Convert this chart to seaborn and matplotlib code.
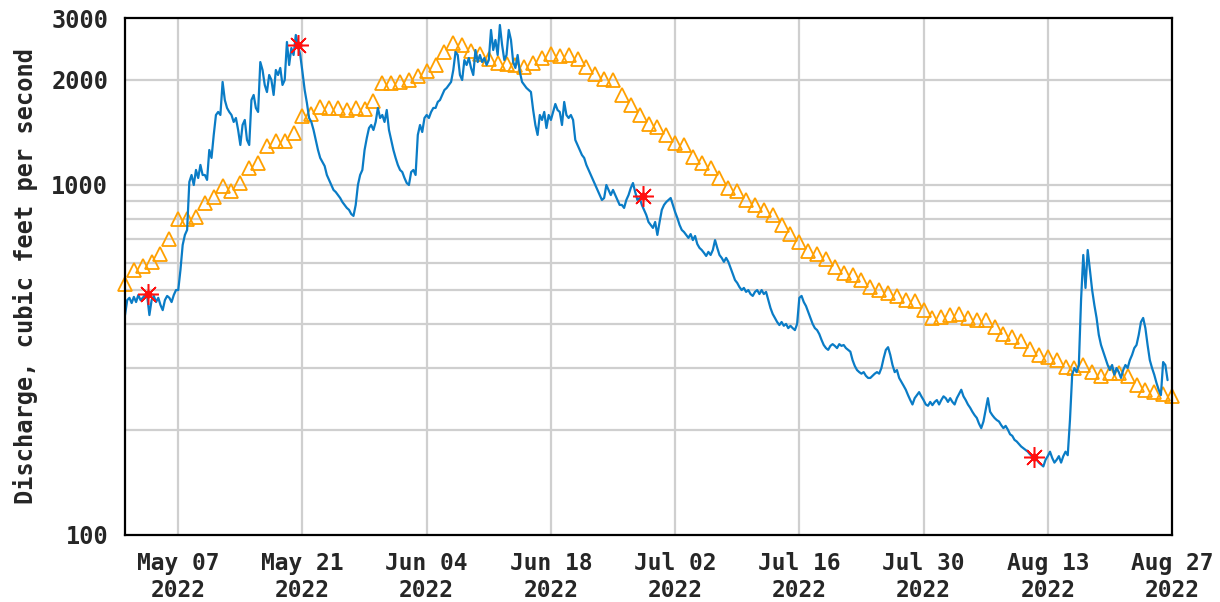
import numpy as np
import pandas as pd
import matplotlib
matplotlib.use("Agg")
import matplotlib.pyplot as plt
import matplotlib.dates as mdates
from matplotlib.ticker import FixedLocator, NullFormatter, FixedFormatter
import seaborn as sns

# ---- data -------------------------------------------------------------
# Instantaneous discharge (cfs), one reading every 6 hours from 2022-05-01 00:00
flow_start = "2022-05-01 00:00"
flow_cfs = [
    425, 469, 476, 460,  479, 463, 485, 469,  476, 485, 482, 425,  469, 482, 463, 476,
    454, 439, 469, 482,  476, 463, 485, 501,  501, 572, 674, 720,  744, 1020, 1068, 1000,
    1104, 1047, 1141, 1068,  1068, 1034, 1259, 1195,  1390, 1585, 1617, 1585,  1970, 1749, 1660, 1617,
    1585, 1514, 1554, 1436,  1301, 1484, 1534, 1345,  1301, 1749, 1808, 1660,  1617, 2245, 2131, 1931,
    1843, 2062, 1995, 1808,  2131, 2062, 2160, 1931,  1995, 2562, 2202, 2462,  2352, 2683, 2512, 2352,
    2103, 1868, 1716, 1554,  1514, 1436, 1345, 1259,  1195, 1163, 1133, 1068,  1034, 1000, 968, 955,
    936, 918, 894, 877,  860, 849, 826, 816,  877, 1000, 1068, 1104,  1259, 1362, 1455, 1484,
    1436, 1514, 1660, 1554,  1585, 1514, 1638, 1436,  1345, 1259, 1195, 1141,  1104, 1089, 1047, 1013,
    1000, 1089, 1104, 1068,  1390, 1484, 1417, 1554,  1585, 1554, 1617, 1660,  1660, 1727, 1749, 1808,
    1868, 1893, 1931, 1970,  2131, 2399, 2352, 2062,  1995, 2275, 2202, 2306,  2160, 2062, 2430, 2245,
    2352, 2245, 2306, 2202,  2275, 2773, 2430, 2596,  2352, 2865, 2512, 2275,  2352, 2773, 2596, 2245,
    2160, 2352, 2103, 1970,  1931, 1893, 1868, 1844,  1638, 1484, 1390, 1585,  1534, 1617, 1455, 1585,
    1534, 1617, 1704, 1638,  1617, 1484, 1727, 1585,  1554, 1585, 1534, 1345,  1301, 1259, 1218, 1195,
    1141, 1104, 1068, 1034,  1000, 968, 936, 906,  918, 1000, 968, 936,  968, 936, 906, 877,
    877, 860, 906, 936,  980, 1013, 955, 906,  918, 877, 849, 821,  784, 769, 754, 784,
    720, 784, 849, 877,  894, 906, 918, 877,  837, 805, 769, 744,  734, 720, 706, 724,
    696, 715, 678, 661,  652, 640, 627, 644,  631, 652, 696, 661,  631, 619, 603, 619,
    603, 580, 557, 535,  525, 511, 501, 508,  495, 501, 488, 482,  495, 501, 488, 501,
    488, 495, 469, 445,  428, 417, 406, 398,  406, 396, 401, 390,  396, 390, 385, 401,
    476, 482, 463, 451,  434, 417, 401, 390,  385, 375, 361, 349,  342, 338, 347, 351,
    347, 342, 351, 347,  349, 342, 338, 334,  316, 304, 296, 292,  289, 292, 285, 281,
    281, 285, 289, 292,  289, 300, 320, 338,  344, 327, 306, 292,  296, 281, 274, 267,
    260, 251, 243, 236,  246, 251, 256, 249,  243, 236, 234, 240,  235, 240, 243, 236,
    243, 249, 246, 240,  246, 240, 236, 246,  253, 260, 249, 243,  236, 231, 225, 220,
    216, 208, 202, 211,  228, 246, 225, 220,  216, 213, 211, 206,  202, 205, 200, 194,
    192, 187, 185, 182,  179, 177, 175, 173,  170, 168, 166, 164,  161, 159, 157, 164,
    168, 173, 166, 161,  164, 168, 161, 168,  173, 169, 213, 287,  300, 292, 306, 469,
    631, 508, 652, 572,  501, 454, 417, 373,  349, 334, 320, 306,  296, 306, 287, 300,
    292, 281, 296, 306,  300, 316, 327, 342,  349, 373, 406, 417,  390, 349, 316, 300,
    287, 272, 260, 251,  312, 306, 277,
]

# Daily median discharge for the period of record (cfs), May 1 - Aug 27
median_start = "2022-05-01"
median_cfs = [
    521, 572, 587, 603, 635, 701, 800, 800, 810, 888,
    924, 993, 961, 1013, 1118, 1156, 1293, 1336, 1336, 1408,
    1575, 1595, 1671, 1660, 1660, 1638, 1660, 1649, 1738, 1956,
    1956, 1970, 1995, 2048, 2117, 2202, 2399, 2545, 2512, 2415,
    2367, 2291, 2232, 2217, 2202, 2174, 2232, 2306, 2367, 2337,
    2352, 2291, 2174, 2076, 2009, 1995, 1808, 1693, 1585, 1494,
    1465, 1390, 1318, 1301, 1202, 1156, 1118, 1047, 980, 961,
    906, 877, 849, 821, 769, 724, 687, 648, 635, 615,
    583, 561, 553, 535, 511, 501, 491, 482, 469, 466,
    439, 417, 420, 425, 428, 417, 411, 411, 393, 375,
    368, 358, 340, 327, 323, 316, 302, 300, 306, 292,
    285, 290, 290, 285, 268, 260, 256, 253, 249,
]

# Field-measured discharge
measured_time = ["2022-05-03 14:00", "2022-05-20 12:00", "2022-06-28 10:00", "2022-08-11 10:00"]
measured_cfs = [488, 2512, 930, 167]

y_major = [100, 1000, 2000, 3000]
y_minor = [200, 300, 400, 500, 600, 700, 800, 900]
tick_dates = ["2022-05-07", "2022-05-21", "2022-06-04", "2022-06-18", "2022-07-02",
              "2022-07-16", "2022-07-30", "2022-08-13", "2022-08-27"]

flow = pd.DataFrame({
    "time": pd.date_range(flow_start, periods=len(flow_cfs), freq="6h"),
    "cfs": flow_cfs,
})
median = pd.DataFrame({
    "time": pd.date_range(median_start, periods=len(median_cfs), freq="D"),
    "cfs": median_cfs,
})
measured = pd.DataFrame({"time": pd.to_datetime(measured_time), "cfs": measured_cfs})

# ---- figure -----------------------------------------------------------
sns.set_style("white")
plt.rcParams["font.family"] = ["DejaVu Sans Mono"]
plt.rcParams["font.weight"] = "bold"

FS = 17
FS_X = 16.5

fig = plt.figure(figsize=(12.2, 6.02), dpi=100)
ax = fig.add_axes([125 / 1220, 1 - 535 / 602, 1047 / 1220, 517 / 602])

grid_c = "#cfcfcf"
ax.set_yscale("log")
ax.set_ylim(100, 3000)
ax.set_xlim(pd.Timestamp("2022-05-01"), pd.Timestamp("2022-08-27"))

# grid
for v in y_minor + y_major[1:3]:
    ax.axhline(v, color=grid_c, lw=1.6, zorder=0)
for d in tick_dates[:-1]:
    ax.axvline(pd.Timestamp(d), color=grid_c, lw=1.6, zorder=0)

sns.lineplot(data=median, x="time", y="cfs", ax=ax, linestyle="", marker="^",
             markersize=9.5, markerfacecolor="none", markeredgecolor="#ffa000",
             markeredgewidth=1.3, estimator=None, sort=False, zorder=2, clip_on=False)
sns.lineplot(data=flow, x="time", y="cfs", ax=ax, color="#0a7cc6", lw=1.6,
             estimator=None, sort=False, zorder=3)
sns.lineplot(data=measured, x="time", y="cfs", ax=ax, linestyle="", marker=(8, 2, 0),
             markersize=15, markeredgecolor="#ff1010", markeredgewidth=1.1,
             estimator=None, sort=False, zorder=4)
sns.lineplot(data=measured, x="time", y="cfs", ax=ax, linestyle="", marker="o",
             markersize=5, markerfacecolor="#ff1010", markeredgecolor="#ff1010",
             estimator=None, sort=False, zorder=4)

# axes
ax.yaxis.set_major_locator(FixedLocator(y_major))
ax.yaxis.set_major_formatter(FixedFormatter([str(v) for v in y_major]))
ax.yaxis.set_minor_locator(FixedLocator(y_minor))
ax.yaxis.set_minor_formatter(NullFormatter())
ax.xaxis.set_major_locator(FixedLocator([mdates.date2num(pd.Timestamp(d)) for d in tick_dates]))
ax.xaxis.set_major_formatter(mdates.DateFormatter("%b %d\n%Y"))

ax.tick_params(axis="both", which="both", length=0)
ax.tick_params(axis="y", pad=12, labelsize=FS)
ax.tick_params(axis="x", pad=12, labelsize=FS_X)
for lab in ax.get_xticklabels() + ax.get_yticklabels():
    lab.set_fontweight("bold")
for lab in ax.get_xticklabels():
    lab.set_linespacing(1.22)

ax.set_xlabel("")
ax.set_ylabel("Discharge, cubic feet per second", fontsize=FS, fontweight="bold")
ax.yaxis.set_label_coords(-0.083, 0.5)

for s in ax.spines.values():
    s.set_color("black")
    s.set_linewidth(1.6)
    s.set_zorder(5)

fig.savefig("out.png", dpi=100, facecolor="white")
